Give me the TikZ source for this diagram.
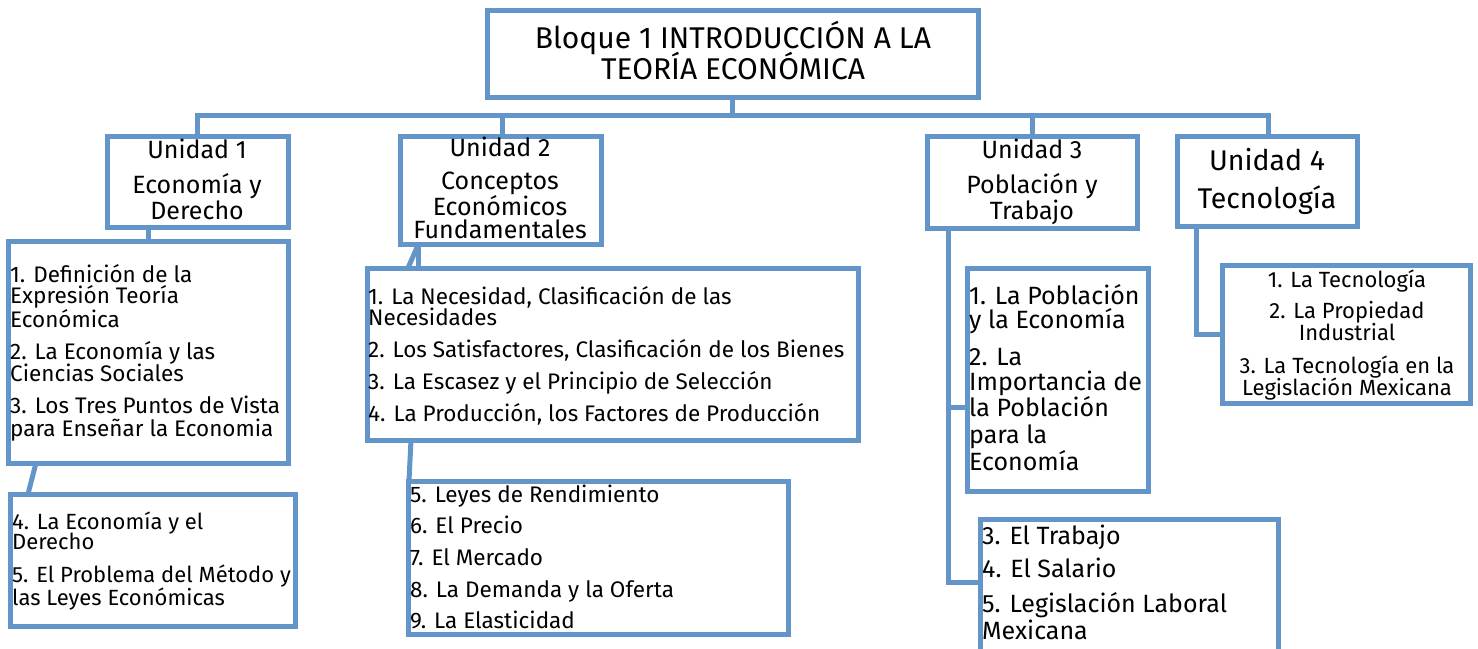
\documentclass[tikz,border=0pt]{standalone}
\usepackage{fontspec}
\setmainfont{Fira Sans}
\definecolor{boxblue}{RGB}{100,149,201}
\begin{document}
\begin{tikzpicture}[x=1pt,y=-1pt,
  box/.style={draw=boxblue,line width=5pt,rectangle,inner sep=0pt,outer sep=0pt,fill=white},
  conn/.style={draw=boxblue,line width=5pt},
  tl/.style={inner sep=0pt,anchor=base west,font=\fontsize{22.5}{24}\selectfont},
  tls/.style={inner sep=0pt,anchor=base west,font=\fontsize{22}{24}\selectfont},
  tlb/.style={inner sep=0pt,anchor=base west,font=\fontsize{25}{27}\selectfont},
  tc/.style={inner sep=0pt,anchor=base,font=\fontsize{22}{24}\selectfont},
  th/.style={inner sep=0pt,anchor=base,font=\fontsize{25}{27}\selectfont},
  ttl/.style={inner sep=0pt,anchor=base,font=\fontsize{30}{32}\selectfont},
  tbig/.style={inner sep=0pt,anchor=base,font=\fontsize{28.5}{30}\selectfont}]
\useasboundingbox (0,0) rectangle (1478,648);
% boxes
\node[box,minimum width=491pt,minimum height=87pt] (title) at (732.5,53.5) {};
\node[box,minimum width=181pt,minimum height=91pt] (u1) at (197.5,181.5) {};
\node[box,minimum width=201pt,minimum height=108pt] (u2) at (500.5,190) {};
\node[box,minimum width=210pt,minimum height=92pt] (u3) at (1032,182) {};
\node[box,minimum width=180pt,minimum height=90pt] (u4) at (1267,181) {};
\node[box,minimum width=280pt,minimum height=222pt] (a) at (148,352) {};
\node[box,minimum width=285pt,minimum height=132pt] (b) at (152.5,560) {};
\node[box,minimum width=491pt,minimum height=172pt] (c) at (612.5,354) {};
\node[box,minimum width=380pt,minimum height=153pt] (d) at (598,557.5) {};
\node[box,minimum width=181pt,minimum height=223pt] (e) at (1057.5,379.5) {};
\node[box,minimum width=298pt,minimum height=141pt] (f) at (1129,589.5) {};
\node[box,minimum width=248pt,minimum height=138pt] (g) at (1346,334.5) {};
% connectors
\coordinate (bus) at (0,115);
\draw[conn] (title.south) -- (title.south |- bus);
\draw[conn] (u1.north) -- (u1.north |- bus) -- ([xshift=1pt]u4.north |- bus) -- ([xshift=1pt]u4.north);
\draw[conn] ([xshift=1.5pt]u2.north) -- ([xshift=1.5pt]u2.north |- bus);
\draw[conn] (u3.north) -- (u3.north |- bus);
\draw[conn] ([xshift=-49.5pt]u1.south) -- (a.north);
\draw[conn] ([xshift=-112pt]a.south) -- ([xshift=-124.5pt]b.north);
\draw[conn] ([xshift=-82pt]u2.south) -- ([xshift=-204.5pt]c.north);
\draw[conn] ([xshift=-82pt]u2.south) -- ([xshift=-194pt]c.north);
\draw[conn] ([xshift=-201.5pt]c.south) -- ([xshift=-189pt]d.north);
\coordinate (j3) at ([xshift=-84pt]u3.south);
\draw[conn] (j3) |- ([yshift=-27.5pt]e.west);
\draw[conn] (j3) |- ([yshift=7.5pt]f.west);
\draw[conn] ([xshift=-71pt]u4.south) |- (g.west);
% title text
\node[ttl] (tt1) at (733,48) {Bloque 1 INTRODUCCIÓN A LA};
\node[ttl] (tt2) at (733,79) {TEORÍA ECONÓMICA};
% unit headers
\node[th] (h11) at (197,158) {Unidad 1};
\node[th] (h12) at (197,193) {Economía y};
\node[th] (h13) at (197,219) {Derecho};
\node[th] (h21) at (500,156) {Unidad 2};
\node[th] (h22) at (500,189) {Conceptos};
\node[th] (h23) at (500,215) {Económicos};
\node[th] (h24) at (500,238) {Fundamentales};
\node[th] (h31) at (1032,158) {Unidad 3};
\node[th] (h32) at (1032,193) {Población y};
\node[th] (h33) at (1032,219) {Trabajo};
\node[tbig] (h41) at (1267,170) {Unidad 4};
\node[tbig] (h42) at (1267,208) {Tecnología};
% list texts
\foreach \t/\y [count=\i] in {{1. Definición de la}/282,{Expresión Teoría}/303,{Económica}/327,{2. La Economía y las}/359,{Ciencias Sociales}/381,{3. Los Tres Puntos de Vista}/413,{para Enseñar la Economia}/436}
  \node[tl] (ta\i) at (10,\y) {\t};
\foreach \t/\y [count=\i] in {{4. La Economía y el}/529,{Derecho}/549,{5. El Problema del Método y}/582,{las Leyes Económicas}/605}
  \node[tls] (tb\i) at (12,\y) {\t};
\foreach \t/\y [count=\i] in {{1. La Necesidad, Clasificación de las}/304,{Necesidades}/325,{2. Los Satisfactores, Clasificación de los Bienes}/357,{3. La Escasez y el Principio de Selección}/389,{4. La Producción, los Factores de Producción}/421}
  \node[tl] (tc\i) at (368,\y) {\t};
\foreach \t/\y [count=\i] in {{5. Leyes de Rendimiento}/502,{6. El Precio}/533,{7. El Mercado}/565,{8. La Demanda y la Oferta}/597,{9. La Elasticidad}/628}
  \node[tl] (td\i) at (410,\y) {\t};
\foreach \t/\y [count=\i] in {{1. La Población}/304,{y la Economía}/328,{2. La}/365,{Importancia de}/390,{la Población}/416,{para la}/443,{Economía}/470}
  \node[tlb] (te\i) at (969,\y) {\t};
\foreach \t/\y [count=\i] in {{3. El Trabajo}/544,{4. El Salario}/577,{5. Legislación Laboral}/612,{Mexicana}/639}
  \node[tlb] (tf\i) at (982,\y) {\t};
\foreach \t/\y [count=\i] in {{1. La Tecnología}/287,{2. La Propiedad}/318,{Industrial}/340,{3. La Tecnología en la}/373,{Legislación Mexicana}/395}
  \node[tc] (tg\i) at (1347,\y) {\t};
\end{tikzpicture}
\end{document}
